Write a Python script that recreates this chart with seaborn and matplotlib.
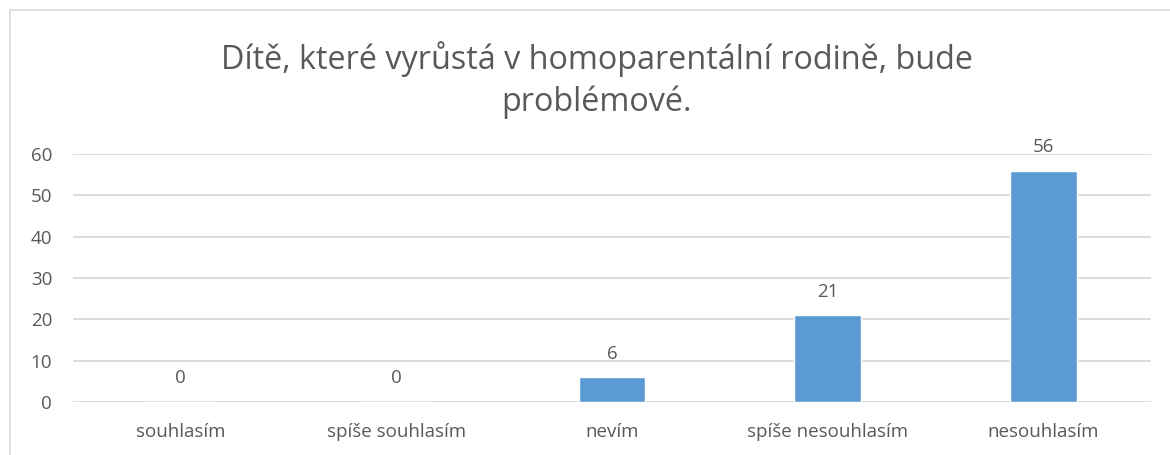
import matplotlib
matplotlib.use("Agg")
import matplotlib.pyplot as plt
import seaborn as sns
import pandas as pd
from matplotlib.lines import Line2D

categories = ["souhlasím", "spíše souhlasím", "nevím", "spíše nesouhlasím", "nesouhlasím"]
values = [0, 0, 6, 21, 56]
yticks = [0, 10, 20, 30, 40, 50, 60]
title = "Dítě, které vyrůstá v homoparentální rodině, bude\nproblémové."

sns.set_theme(style="white")
plt.rcParams['font.family'] = ['Open Sans', 'DejaVu Sans']

text_color = "#595959"
grid_color = "#D9D9D9"
bar_color = "#5B9BD5"

df = pd.DataFrame({"cat": categories, "val": values})

fig = plt.figure(figsize=(11.7, 4.55), dpi=100)
ax = fig.add_axes([73/1170, 1-402/455, (1151-73)/1170, (402-154)/455])

sns.barplot(data=df, x="cat", y="val", color=bar_color, width=0.31, ax=ax,
            saturation=1, zorder=3)

ax.set_ylim(0, 60)
ax.set_yticks(yticks)
ax.set_xlim(-0.5, len(categories) - 0.5)
ax.set_xlabel("")
ax.set_ylabel("")
for s in ax.spines.values():
    s.set_visible(False)
ax.yaxis.grid(True, color=grid_color, linewidth=1.3, zorder=0)
ax.set_axisbelow(True)
ax.tick_params(axis="y", length=0, pad=15, labelsize=13.5, labelcolor=text_color)
ax.tick_params(axis="x", length=0, pad=15, labelsize=13.5, labelcolor=text_color)

for i, v in enumerate(values):
    ax.annotate(str(v), (i, v), xytext=(0, 17), textcoords="offset points",
                ha="center", va="center", fontsize=13.5, color=text_color)

fig.text(597/1170, 1-80/455, title, ha="center", va="center", fontsize=23.3,
         color=text_color, linespacing=1.35)

fig.add_artist(Line2D([10/1170, 1], [1-10/455, 1-10/455], color=grid_color, linewidth=1.2))
fig.add_artist(Line2D([10/1170, 10/1170], [0, 1-10/455], color=grid_color, linewidth=1.2))

fig.savefig("out.png", dpi=100, facecolor="white")
